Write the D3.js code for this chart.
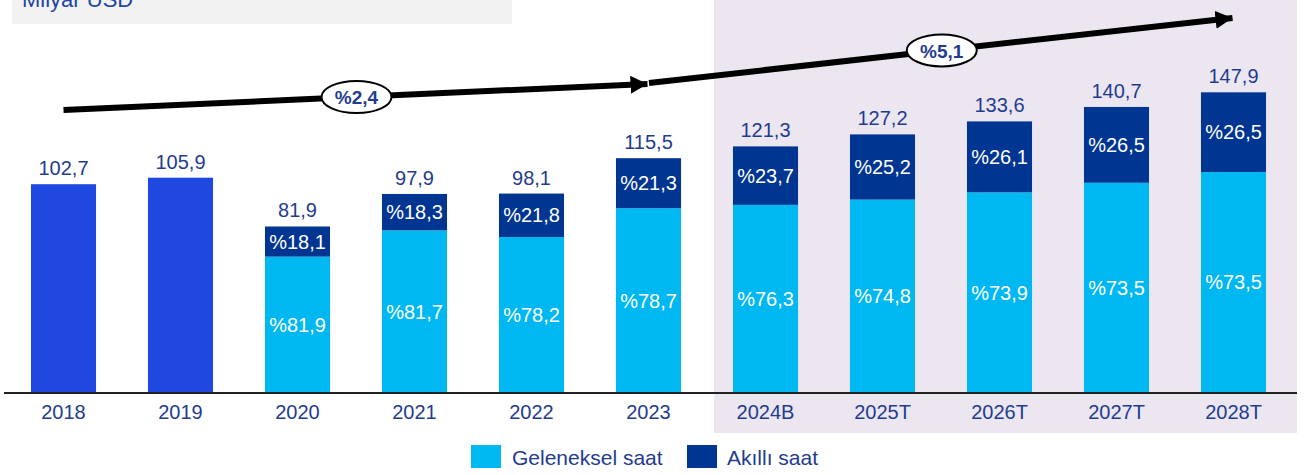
<!DOCTYPE html>
<html>
<head>
<meta charset="utf-8">
<script src="https://cdn.jsdelivr.net/npm/d3@7/dist/d3.min.js"></script>
<style>
  html, body { margin: 0; padding: 0; background: #ffffff; }
  svg { display: block; font-family: "Liberation Sans", Arial, sans-serif; }
</style>
</head>
<body>
<svg id="chart" width="1307" height="475"></svg>
<script>
// ---- data ----
const categories = ["2018","2019","2020","2021","2022","2023","2024B","2025T","2026T","2027T","2028T"];
const totals     = [102.7, 105.9, 81.9, 97.9, 98.1, 115.5, 121.3, 127.2, 133.6, 140.7, 147.9];
const smartShare = [null, null, 18.1, 18.3, 21.8, 21.3, 23.7, 25.2, 26.1, 26.5, 26.5];
const tradShare  = [null, null, 81.9, 81.7, 78.2, 78.7, 76.3, 74.8, 73.9, 73.5, 73.5];
const cagrLabels = ["%2,4", "%5,1"];
const cagrSpans  = [["2018","2023"], ["2023","2028T"]];
const forecastStart = "2024B";
const legendLabels = ["Geleneksel saat", "Akıllı saat"];
const unitLabel = "Milyar USD";

const fmt = v => v.toFixed(1).replace(".", ",");
const pct = v => "%" + v.toFixed(1).replace(".", ",");

// ---- layout ----
const baseY = 393;
const svg = d3.select("#chart");

const x = d3.scaleBand().domain(categories).range([5, 1292]).paddingInner(0.444).paddingOuter(0.222);
const y = d3.scaleLinear().domain([0, 150]).range([baseY, baseY - 150 * 2.033]);

const C = {
  royal: "#1f48e0", light: "#00b8f1", dark: "#003591",
  text: "#1f3c8f", band: "#ece6f1", header: "#f2f2f2"
};

// forecast band
const bandX = x(forecastStart) - 19;
svg.append("rect").attr("x", bandX).attr("y", 0)
  .attr("width", 1297 - bandX).attr("height", 433).attr("fill", C.band);

// header box
svg.append("rect").attr("x", 12).attr("y", 0).attr("width", 500).attr("height", 24).attr("fill", C.header);
svg.append("text").attr("x", 22).attr("y", 7).attr("font-size", 22).attr("fill", "#1f46a0").text(unitLabel);

// bars
const rows = categories.map((c, i) => ({ c, total: totals[i], smart: smartShare[i], trad: tradShare[i] }));
const g = svg.append("g");
rows.forEach((d) => {
  const bx = x(d.c), bw = x.bandwidth();
  if (d.smart == null) {
    g.append("rect").attr("x", bx).attr("y", y(d.total)).attr("width", bw)
      .attr("height", y(0) - y(d.total)).attr("fill", C.royal);
  } else {
    const tradVal = d.total * d.trad / 100;
    const yTop = y(d.total), ySplit = y(tradVal);
    g.append("rect").attr("x", bx).attr("y", ySplit).attr("width", bw)
      .attr("height", y(0) - ySplit).attr("fill", C.light);
    g.append("rect").attr("x", bx).attr("y", yTop).attr("width", bw)
      .attr("height", ySplit - yTop).attr("fill", C.dark);
    g.append("text").attr("x", bx + bw / 2).attr("y", (yTop + ySplit) / 2)
      .attr("text-anchor", "middle").attr("dominant-baseline", "central")
      .attr("font-size", 20).attr("fill", "#ffffff").text(pct(d.smart));
    g.append("text").attr("x", bx + bw / 2).attr("y", (ySplit + y(0)) / 2)
      .attr("text-anchor", "middle").attr("dominant-baseline", "central")
      .attr("font-size", 20).attr("fill", "#ffffff").text(pct(d.trad));
  }
  g.append("text").attr("x", bx + bw / 2).attr("y", y(d.total) - 9)
    .attr("text-anchor", "middle").attr("font-size", 20).attr("fill", C.text).text(fmt(d.total));
});

// axis
const axis = svg.append("g").attr("transform", `translate(0,${baseY})`)
  .call(d3.axisBottom(x).tickSize(0).tickPadding(12));
axis.select(".domain").attr("d", `M4,0H1297`).attr("stroke", "#222").attr("stroke-width", 2);
axis.selectAll("text").attr("font-size", 20).attr("fill", C.text)
  .attr("font-family", "'Liberation Sans', Arial, sans-serif");

// CAGR arrows
const defs = svg.append("defs");
defs.append("marker").attr("id", "ah").attr("viewBox", "0 0 17 18").attr("refX", 17).attr("refY", 9)
  .attr("markerWidth", 17).attr("markerHeight", 18).attr("markerUnits", "userSpaceOnUse")
  .attr("orient", "auto").append("path").attr("d", "M0,0L17,9L0,18Z").attr("fill", "#000");

const arrowLevels = [[139.2, 152.0], [152.5, 184.5]];
cagrSpans.forEach((s, i) => {
  const x0 = x(s[0]) + x.bandwidth() / 2 + (i === 0 ? 0 : 0.5);
  const x1 = x(s[1]) + x.bandwidth() / 2 - 1;
  const y0 = y(arrowLevels[i][0]), y1 = y(arrowLevels[i][1]);
  svg.append("line").attr("x1", x0).attr("y1", y0).attr("x2", x1).attr("y2", y1)
    .attr("stroke", "#000").attr("stroke-width", 6).attr("marker-end", "url(#ah)");
  const mx = (x0 + x1) / 2 + 1, my = (y0 + y1) / 2;
  svg.append("ellipse").attr("cx", mx).attr("cy", my).attr("rx", 35).attr("ry", 16)
    .attr("fill", "#fff").attr("stroke", "#000").attr("stroke-width", 2);
  svg.append("text").attr("x", mx).attr("y", my + 1).attr("text-anchor", "middle")
    .attr("dominant-baseline", "central").attr("font-size", 19).attr("font-weight", "bold")
    .attr("fill", "#1f3c8f").text(cagrLabels[i]);
});

// legend
const legend = svg.append("g");
[[471, C.light, 512], [687, C.dark, 727]].forEach((p, i) => {
  legend.append("rect").attr("x", p[0]).attr("y", 445).attr("width", 30).attr("height", 23).attr("fill", p[1]);
  legend.append("text").attr("x", p[2]).attr("y", 465).attr("font-size", 21).attr("fill", C.text).text(legendLabels[i]);
});
</script>
</body>
</html>
